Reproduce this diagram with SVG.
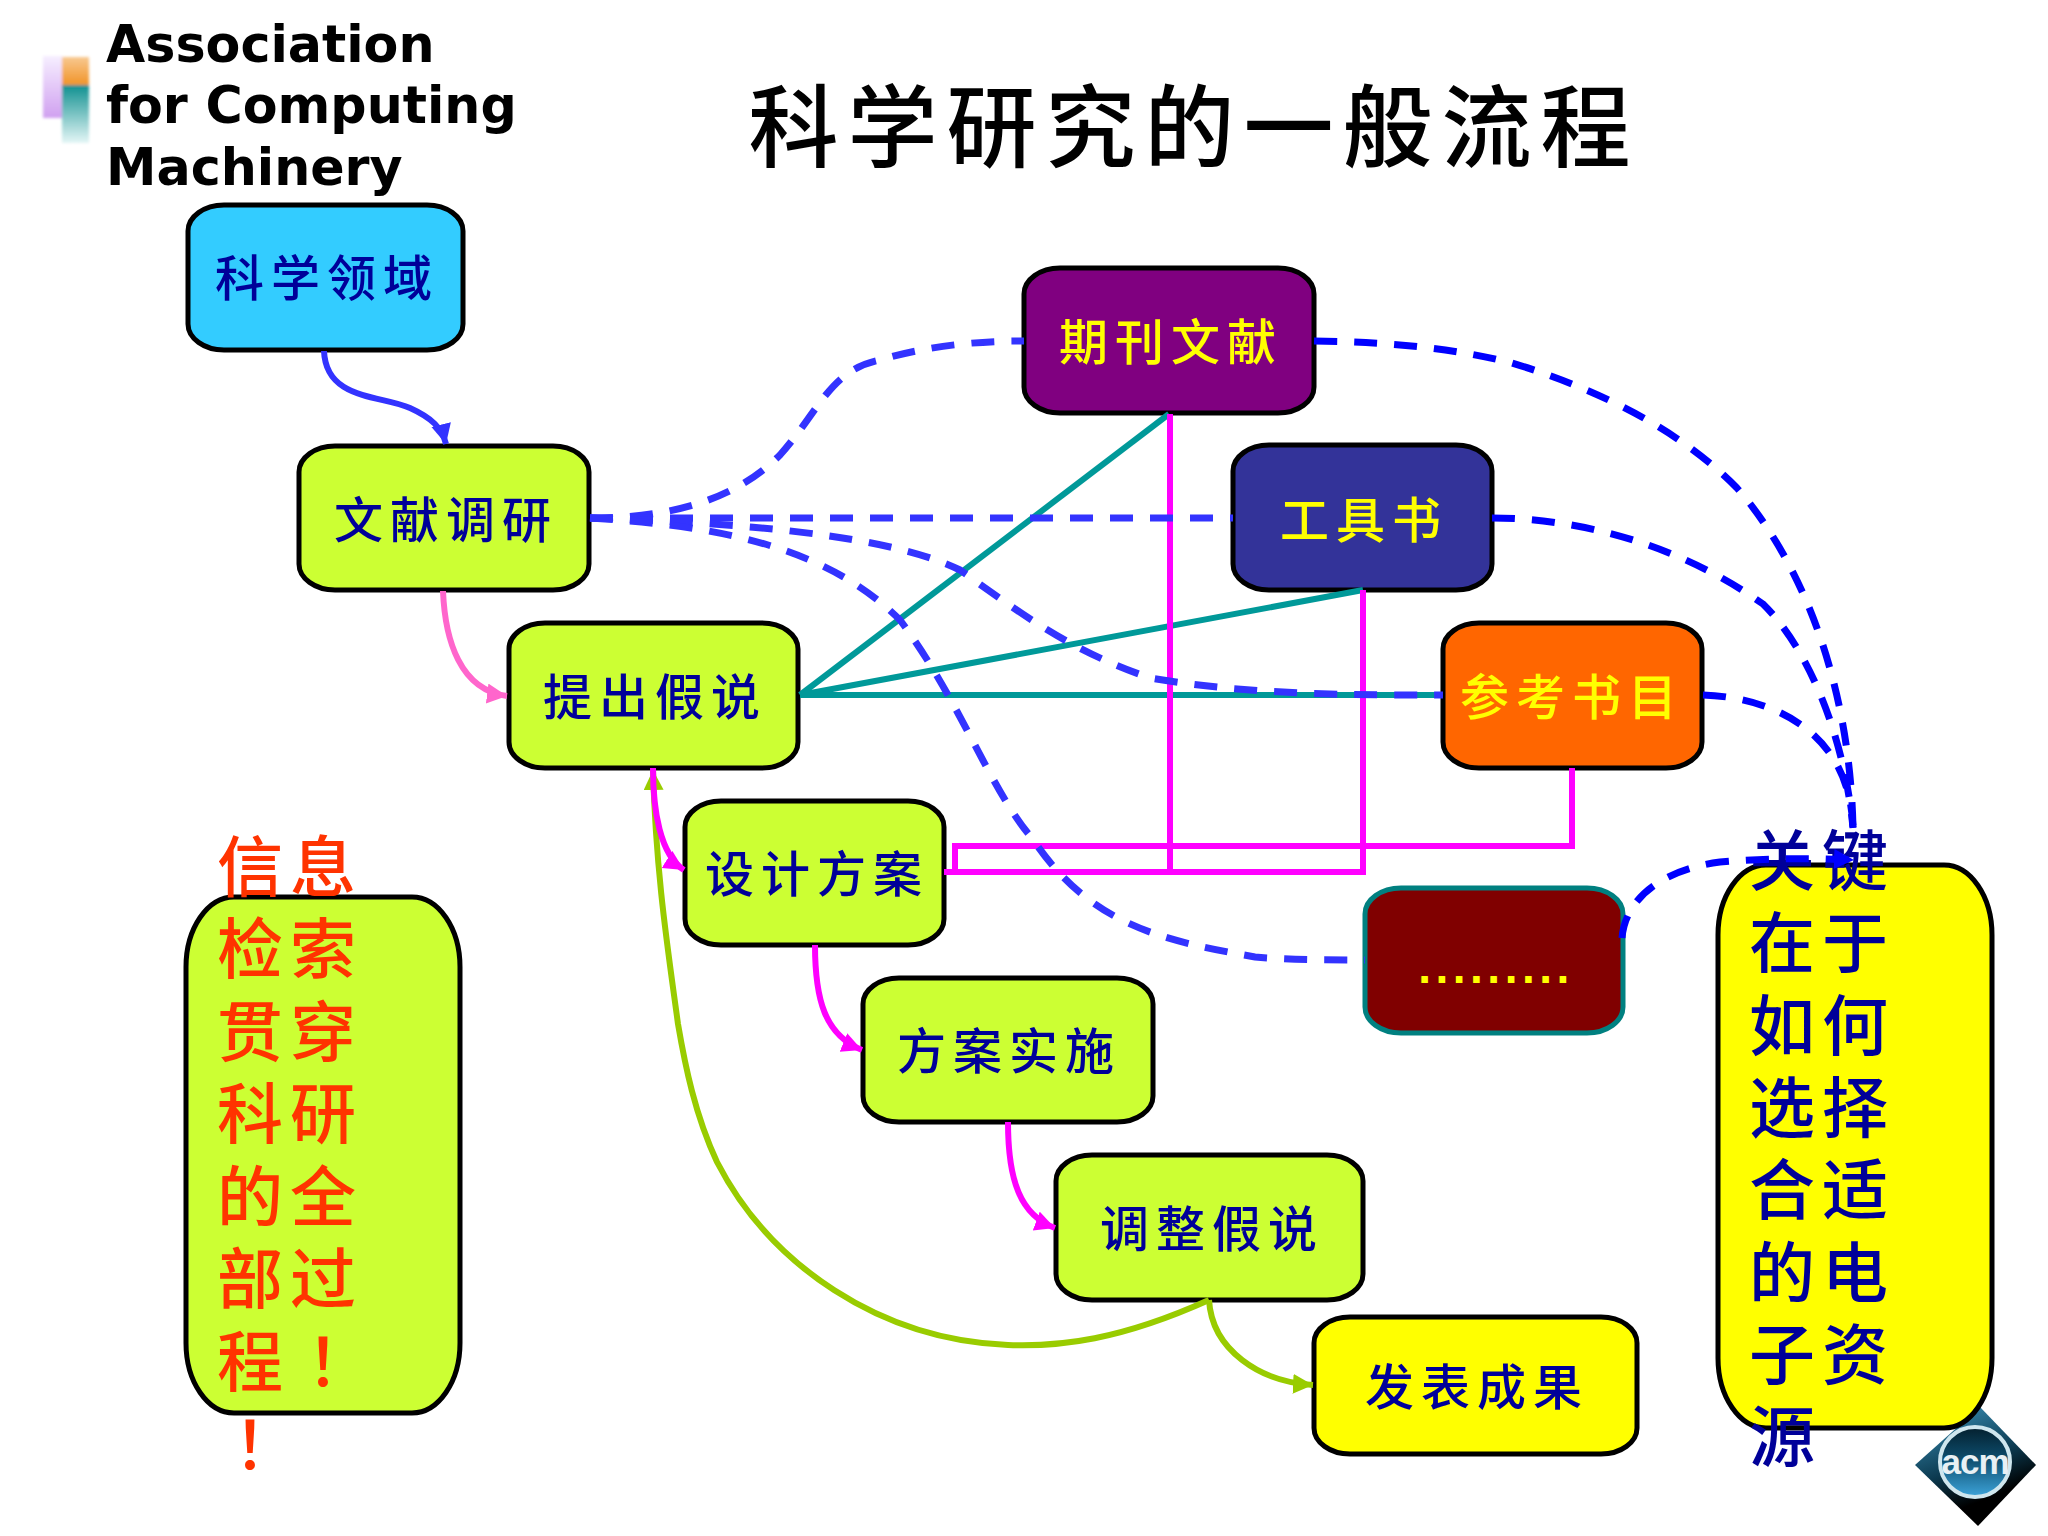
<svg xmlns="http://www.w3.org/2000/svg" width="2048" height="1536" viewBox="0 0 2048 1536">
<style>
text{font-family:"Noto Sans CJK SC","Liberation Sans",sans-serif}
.box{stroke:#000;stroke-width:5}
.lime{fill:#ccff33}
.n{font-size:49px;font-weight:500;letter-spacing:7px;text-anchor:middle;fill:#000099}
.y{fill:#ffff00}
.org{font-family:"DejaVu Sans",sans-serif;font-weight:700;font-size:50.7px;fill:#000}
.v{font-size:66px;font-weight:500;letter-spacing:7px}
.vb{fill:#000099}
.vr{fill:#ff3300}
.d{fill:none;stroke-width:7;stroke-dasharray:23 17}
.d1{stroke:#3333ff}
.d2{stroke:#0000ff}
.t{fill:none;stroke:#009999;stroke-width:6}
.m{fill:none;stroke:#ff00ff;stroke-width:6}
.c{fill:none;stroke-width:6}
</style>
<defs>
<marker id="aB" markerUnits="userSpaceOnUse" markerWidth="24" markerHeight="24" refX="20" refY="10" orient="auto"><path d="M0 0L20 10L0 20Z" fill="#3333ff"/></marker>
<marker id="aD" markerUnits="userSpaceOnUse" markerWidth="24" markerHeight="24" refX="20" refY="10" orient="auto"><path d="M0 0L20 10L0 20Z" fill="#0000ff"/></marker>
<marker id="aP" markerUnits="userSpaceOnUse" markerWidth="24" markerHeight="24" refX="20" refY="10" orient="auto"><path d="M0 0L20 10L0 20Z" fill="#ff66cc"/></marker>
<marker id="aM" markerUnits="userSpaceOnUse" markerWidth="24" markerHeight="24" refX="20" refY="10" orient="auto"><path d="M0 0L20 10L0 20Z" fill="#ff00ff"/></marker>
<marker id="aG" markerUnits="userSpaceOnUse" markerWidth="24" markerHeight="24" refX="20" refY="10" orient="auto"><path d="M0 0L20 10L0 20Z" fill="#99cc00"/></marker>
<linearGradient id="gL" x1="0" y1="0" x2="0" y2="1"><stop offset="0" stop-color="#f6eeff"/><stop offset="1" stop-color="#d0a0f0"/></linearGradient>
<linearGradient id="gO" x1="0" y1="0" x2="0" y2="1"><stop offset="0" stop-color="#f8c890"/><stop offset="1" stop-color="#f09020"/></linearGradient>
<linearGradient id="gT" x1="0" y1="0" x2="0" y2="1"><stop offset="0" stop-color="#109090"/><stop offset="1" stop-color="#e4f6f6"/></linearGradient>
<linearGradient id="gD" x1="0.2" y1="0" x2="0.6" y2="1"><stop offset="0" stop-color="#3a8fb5"/><stop offset="0.5" stop-color="#0c3a50"/><stop offset="0.8" stop-color="#000"/></linearGradient>
<linearGradient id="gC" x1="0" y1="0" x2="0" y2="1"><stop offset="0" stop-color="#04202e"/><stop offset="0.45" stop-color="#0d4c6c"/><stop offset="1" stop-color="#3da4da"/></linearGradient>
<filter id="soft" x="-30%" y="-30%" width="160%" height="160%"><feGaussianBlur stdDeviation="1.5"/></filter>
</defs>

<g id="org-logo">
<g filter="url(#soft)">
<rect x="43" y="56" width="20" height="62" fill="url(#gL)"/>
<rect x="62" y="57" width="27" height="30" fill="url(#gO)"/>
<rect x="62" y="85" width="27" height="58" fill="url(#gT)"/>
</g>
<text class="org" x="106" y="62">Association</text>
<text class="org" x="106" y="123">for Computing</text>
<text class="org" x="106" y="185">Machinery</text>
</g>

<text id="title" x="1194" y="160" font-size="90" letter-spacing="9" text-anchor="middle" fill="#000" font-weight="500">科学研究的一般流程</text>

<g id="acm-logo">
<path d="M1980 1407L2036 1465L1978 1526L1915 1465Z" fill="url(#gD)"/>
<circle cx="1975" cy="1462" r="35" fill="url(#gC)" stroke="#cfe6ee" stroke-width="4"/>
<text x="1975" y="1474" font-size="35" font-weight="700" text-anchor="middle" fill="#e8f0f4" style="font-family:'Liberation Sans',sans-serif" letter-spacing="-1">acm</text>
</g>

<g id="n-field"><rect class="box" x="188" y="205" width="275" height="145" rx="36" ry="26" fill="#33ccff"/><text class="n" x="327" y="296">科学领域</text></g>
<g id="n-survey"><rect class="box lime" x="299" y="446" width="290" height="144" rx="36" ry="26"/><text class="n" x="446" y="538">文献调研</text></g>
<g id="n-hypothesis"><rect class="box lime" x="509" y="623" width="289" height="145" rx="36" ry="26"/><text class="n" x="655" y="715">提出假说</text></g>
<g id="n-design"><rect class="box lime" x="685" y="801" width="259" height="144" rx="36" ry="26"/><text class="n" x="817" y="892">设计方案</text></g>
<g id="n-implement"><rect class="box lime" x="863" y="978" width="290" height="144" rx="36" ry="26"/><text class="n" x="1009" y="1069">方案实施</text></g>
<g id="n-adjust"><rect class="box lime" x="1056" y="1155" width="307" height="145" rx="36" ry="26"/><text class="n" x="1212" y="1247">调整假说</text></g>
<g id="n-publish"><rect class="box" x="1314" y="1317" width="323" height="137" rx="36" ry="26" fill="#ffff00"/><text class="n" x="1477" y="1405">发表成果</text></g>
<g id="n-journal"><rect class="box" x="1024" y="268" width="290" height="145" rx="36" ry="26" fill="#800080"/><text class="n y" x="1171" y="360">期刊文献</text></g>
<g id="n-reference"><rect class="box" x="1233" y="445" width="259" height="145" rx="36" ry="26" fill="#333399"/><text class="n y" x="1364" y="538">工具书</text></g>
<g id="n-bibliography"><rect class="box" x="1443" y="623" width="259" height="145" rx="36" ry="26" fill="#ff6600"/><text class="n y" x="1572" y="715">参考书目</text></g>
<g id="n-other"><rect x="1365" y="888" width="258" height="145" rx="36" ry="26" fill="#800000" stroke="#008080" stroke-width="5"/><text x="1496" y="983" font-size="46" font-weight="700" letter-spacing="4.5" text-anchor="middle" fill="#ffff00" style="font-family:'Liberation Sans',sans-serif">.........</text></g>

<g id="n-info">
<rect class="box lime" x="186" y="897" width="274" height="516" rx="48" ry="70"/>
<g class="v vr">
<text x="217" y="891">信息</text>
<text x="217" y="973">检索</text>
<text x="217" y="1056">贯穿</text>
<text x="217" y="1138">科研</text>
<text x="217" y="1221">的全</text>
<text x="217" y="1303">部过</text>
<text x="217 290" y="1386">程<tspan style="font-family:'Noto Sans CJK TC',sans-serif">！</tspan></text>
<text x="217" y="1469" style="font-family:'Noto Sans CJK TC',sans-serif">！</text>
</g>
</g>

<g id="n-key">
<rect class="box" x="1718" y="865" width="274" height="563" rx="48" ry="70" fill="#ffff00"/>
<g class="v vb">
<text x="1749" y="885">关键</text>
<text x="1749" y="967">在于</text>
<text x="1749" y="1050">如何</text>
<text x="1749" y="1132">选择</text>
<text x="1749" y="1214">合适</text>
<text x="1749" y="1297">的电</text>
<text x="1749" y="1379">子资</text>
<text x="1749" y="1461">源</text>
</g>
</g>

<g id="connectors">
<path class="c" stroke="#3333ff" marker-end="url(#aB)" d="M324 351C326 400 380 395 410 408C432 418 442 428 446 444"/>
<path class="c" stroke="#ff66cc" marker-end="url(#aP)" d="M443 591C445 640 460 690 507 696"/>
<path class="c" stroke="#99cc00" marker-end="url(#aG)" d="M1209 1300C1120 1340 1060 1347 1008 1345C880 1340 770 1265 717 1162C695 1115 685 1065 678 1024C668 950 656 875 653 770"/>
<path class="c" stroke="#99cc00" marker-end="url(#aG)" d="M1209 1300C1212 1350 1260 1382 1313 1385"/>
<path class="c" stroke="#ff00ff" marker-end="url(#aM)" d="M653 768C653 810 660 855 684 870"/>
<path class="c" stroke="#ff00ff" marker-end="url(#aM)" d="M815 945C815 1000 825 1035 862 1050"/>
<path class="c" stroke="#ff00ff" marker-end="url(#aM)" d="M1008 1122C1008 1180 1020 1215 1055 1228"/>
<path class="t" d="M800 695L1169 414"/>
<path class="t" d="M800 695L1363 590"/>
<path class="t" d="M800 695H1443"/>
<path class="m" d="M1170 414V872"/>
<path class="m" d="M1363 590V872H944"/>
<path class="m" d="M1572 768V846H955V872"/>
<path class="d d1" d="M590 518C660 518 730 505 780 455C820 410 830 370 880 360C930 345 980 341 1024 341"/>
<path class="d d1" d="M590 518H1233"/>
<path class="d d1" d="M590 518C700 522 880 530 960 570C1030 620 1070 650 1150 678C1250 695 1350 695 1443 695"/>
<path class="d d1" d="M590 518C700 525 820 540 900 620C960 700 990 790 1032 838C1090 925 1160 940 1255 957C1290 960 1330 960 1365 960"/>
<path class="d d2" d="M1314 341C1400 342 1460 350 1512 363C1600 390 1680 430 1737 488C1800 560 1850 680 1853 828"/>
<path class="d d2" d="M1492 518C1580 518 1680 545 1763 604C1810 650 1845 740 1853 828"/>
<path class="d d2" d="M1703 695C1770 697 1850 730 1853 828"/>
<path class="d d2" marker-end="url(#aD)" d="M1622 938C1625 900 1660 870 1720 862C1770 858 1810 858 1854 860"/>
</g>
</svg>
